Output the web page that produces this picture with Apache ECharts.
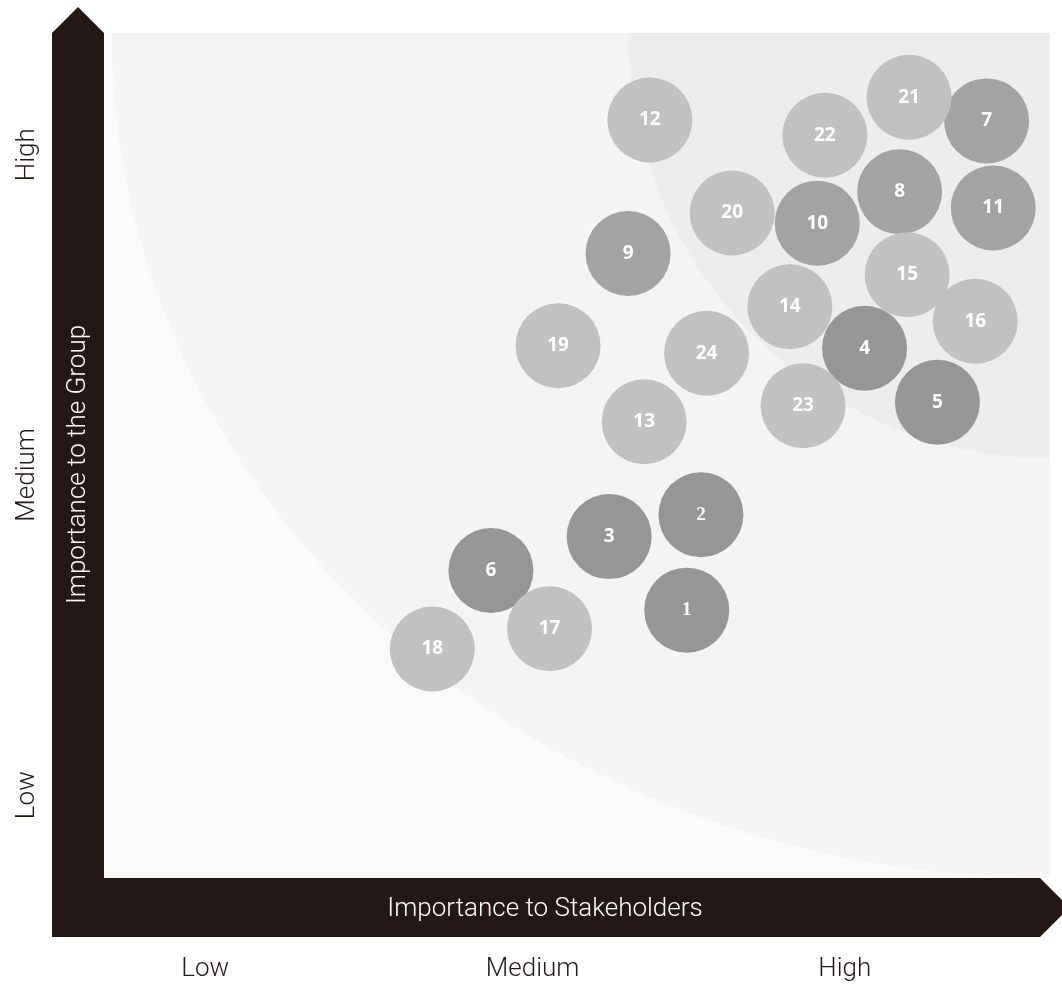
<!DOCTYPE html>
<html><head><meta charset="utf-8">
<script src="https://cdn.jsdelivr.net/npm/echarts@6/dist/echarts.min.js"></script>
<style>html,body{margin:0;padding:0;background:#fff}#c{width:1062px;height:984px}</style>
</head><body><div id="c"></div>
<script>
// ---- data ----
const topicIds = [1,2,3,4,5,6,7,8,9,10,11,12,13,14,15,16,17,18,19,20,21,22,23,24];
const stakeholderScores = [61.6,63.1,53.4,80.4,88.1,40.9,93.3,84.1,55.4,75.4,94.0,57.7,57.1,72.5,84.9,92.1,47.1,34.7,48.0,66.4,85.1,76.2,73.9,63.7];
const groupScores       = [31.7,43.0,40.4,62.7,56.3,36.4,89.6,81.2,73.9,77.5,79.3,89.7,54.0,67.6,71.4,65.9,29.5,27.1,63.0,78.7,92.4,87.9,55.9,62.1];
const topicTiers = ['A','A','A','A','A','A','B','B','B','B','B','C','C','C','C','C','C','C','C','C','C','C','C','C'];
const tierNames = ['A','B','C'];
const xTickValues = [10.7, 45.3, 78.3];
const xTickLabels = ['Low','Medium','High'];
const yTickValues = [9.8, 47.7, 85.6];
const yTickLabels = ['Low','Medium','High'];
const zoneRadiiX = [99.2, 44.6];
const zoneRadiiY = [100, 50.3];

// ---- styles ----
const tierColors = {A:'#959695', B:'#a2a3a2', C:'#c0c1c0'};
const zoneColors = ['#f4f4f4', '#ecedec'];
const serifLabelIds = [1, 2];
const ink = '#231815';

function renderBackdrop(params, api) {
  const tl = api.coord([0, 100]);
  const br = api.coord([100, 0]);
  const corner = api.coord([100, 100]);
  const children = [];
  children.push({type:'rect', shape:{x:tl[0], y:tl[1], width:br[0]-tl[0], height:br[1]-tl[1]}, style:{fill:'#fafafa'}});
  zoneRadiiX.forEach((rx, i) => {
    const ry = zoneRadiiY[i];
    const pts = [corner];
    for (let k = 0; k <= 90; k++) {
      const t = k * Math.PI / 180;
      pts.push(api.coord([100 - rx * Math.cos(t), 100 - ry * Math.sin(t)]));
    }
    children.push({type:'polygon', shape:{points:pts}, style:{fill:zoneColors[i]}});
  });
  const vw = 52, hw = 59;
  const left = tl[0], top = tl[1], bottom = br[1], right = br[0] - 10;
  children.push({type:'polygon', shape:{points:[[left-vw, bottom+hw],[left-vw, top],[left-vw/2, top-vw/2],[left, top],[left, bottom+hw]]}, style:{fill:ink}});
  children.push({type:'polygon', shape:{points:[[left-vw, bottom],[right, bottom],[right+hw/2, bottom+hw/2],[right, bottom+hw],[left-vw, bottom+hw]]}, style:{fill:ink}});
  return {type:'group', children};
}

const bubbleSeries = tierNames.map(tier => ({
  type: 'scatter',
  name: tier,
  symbolSize: 85,
  z: 3,
  itemStyle: {color: tierColors[tier], opacity: 1},
  label: {
    show: true, position: 'inside', color: '#fff', fontSize: 19, fontWeight: 'bold',
    fontFamily: 'Noto Sans',
    formatter: p => String(p.value[2])
  },
  data: topicIds.map((id, i) => ({id, i})).filter(d => topicTiers[d.i] === tier).map(d => {
    const item = {value: [stakeholderScores[d.i], groupScores[d.i], d.id]};
    if (serifLabelIds.includes(d.id)) item.label = {fontFamily: 'Liberation Serif'};
    return item;
  })
}));

const chart = echarts.init(document.getElementById('c'), null, {renderer: 'canvas'});
chart.setOption({
  animation: false,
  grid: {left: 104, right: 12, top: 33, bottom: 106, containLabel: false, outerBoundsMode: 'none'},
  xAxis: {
    type: 'value', min: 0, max: 100, z: 10,
    name: 'Importance to Stakeholders', nameLocation: 'middle', nameGap: 18, nameMoveOverlap: false,
    nameTextStyle: {color: '#fff', fontSize: 26, fontFamily: 'Roboto', fontWeight: 300, padding: [0, 64, 0, 0]},
    axisLine: {show: false}, axisTick: {show: false}, splitLine: {show: false},
    axisLabel: {
      customValues: xTickValues, margin: 78, color: ink, fontSize: 26, fontFamily: 'Roboto', fontWeight: 300,
      formatter: v => xTickLabels[xTickValues.indexOf(v)]
    }
  },
  yAxis: {
    type: 'value', min: 0, max: 100, z: 10,
    name: 'Importance to the Group', nameLocation: 'middle', nameGap: 13, nameMoveOverlap: false,
    nameTextStyle: {color: '#fff', fontSize: 26, fontFamily: 'Roboto', fontWeight: 300, padding: [0, 18, 0, 0]},
    axisLine: {show: false}, axisTick: {show: false}, splitLine: {show: false},
    axisLabel: {
      customValues: yTickValues, margin: 64, rotate: 90, color: ink, fontSize: 26, fontFamily: 'Roboto', fontWeight: 300,
      formatter: v => yTickLabels[yTickValues.indexOf(v)]
    }
  },
  series: [
    {type: 'custom', z: 0, silent: true, renderItem: renderBackdrop, data: [[0, 0]]},
    ...bubbleSeries
  ]
});
</script></body></html>
